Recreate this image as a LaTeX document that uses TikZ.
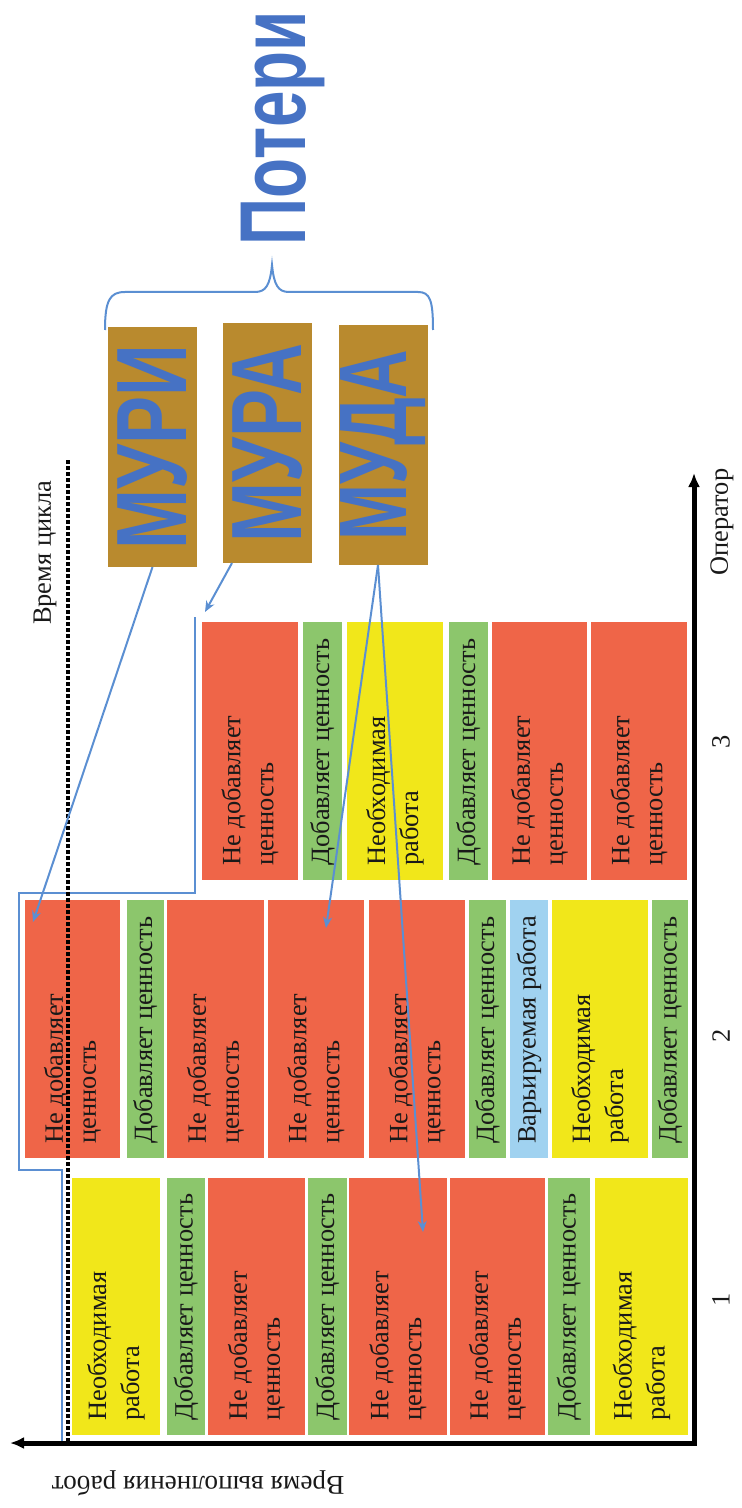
\documentclass[tikz,border=0pt]{standalone}
\usepackage{fontspec}
\usepackage{graphicx}
\setmainfont{Liberation Serif}
\newfontfamily\bigsans{Liberation Sans}
\usetikzlibrary{arrows.meta,calc}

\definecolor{nvaC}{HTML}{EF6548}
\definecolor{vaC}{HTML}{8CC66C}
\definecolor{reqC}{HTML}{F1E71A}
\definecolor{varC}{HTML}{A0D2F0}
\definecolor{goldC}{HTML}{B98A2E}
\definecolor{lineC}{HTML}{5B8FD2}
\definecolor{wordC}{HTML}{4672C4}

% one work element of an operator: name, x1, x2, y1, y2, style, label
\newcommand{\workbar}[7]{%
  \node[#6, minimum width={(#3-#2)*0.5pt}, minimum height={(#5-#4)*0.5pt}] (#1) at ({(#2+#3)/2},{(#4+#5)/2}) {};
  \node[lbl] (#1t) at ({(#2+#3)/2},{#5-14}) {#7};
}
% large condensed lettering
\newcommand{\bigword}[3]{\scalebox{#1}[1]{\fontsize{#2}{#2}\bigsans\bfseries #3}}

\begin{document}
\begin{tikzpicture}[x=0.5pt,y=-0.5pt,
  bar/.style={draw=none, inner sep=0pt, outer sep=0pt},
  nva/.style={bar, fill=nvaC},
  va/.style={bar, fill=vaC},
  req/.style={bar, fill=reqC},
  var/.style={bar, fill=varC},
  lbl/.style={rotate=90, anchor=west, align=left, inner sep=0pt,
    font=\fontsize{13.2}{16.5}\selectfont, text=black!90},
  plain/.style={inner sep=0pt, font=\fontsize{13.2}{16}\selectfont, text=black!90},
  waste/.style={draw=none, fill=goldC, inner sep=0pt, outer sep=0pt,
    minimum width=44.5pt, minimum height=120pt, text=wordC},
  link/.style={draw=lineC, line width=1pt, -{Stealth[length=5.5pt,width=4.5pt]}},
  axis/.style={draw=black, line width=2.5pt, {Latex[length=7pt,width=6pt]}-{Latex[length=7pt,width=6pt]}},
]
\useasboundingbox (0,0) rectangle (741,1508);

% operator 3
\workbar{o3a}{202}{298}{622}{880}{nva}{Не добавляет\\ценность}
\workbar{o3b}{303}{342}{622}{880}{va}{Добавляет ценность}
\workbar{o3c}{347}{443}{622}{880}{req}{Необходимая\\работа}
\workbar{o3d}{449}{488}{622}{880}{va}{Добавляет ценность}
\workbar{o3e}{492}{587}{622}{880}{nva}{Не добавляет\\ценность}
\workbar{o3f}{591}{687}{622}{880}{nva}{Не добавляет\\ценность}

% operator 2
\workbar{o2a}{25}{120}{900}{1158}{nva}{Не добавляет\\ценность}
\workbar{o2b}{127}{164}{900}{1158}{va}{Добавляет ценность}
\workbar{o2c}{167}{264}{900}{1158}{nva}{Не добавляет\\ценность}
\workbar{o2d}{268}{364}{900}{1158}{nva}{Не добавляет\\ценность}
\workbar{o2e}{369}{465}{900}{1158}{nva}{Не добавляет\\ценность}
\workbar{o2f}{469}{506}{900}{1158}{va}{Добавляет ценность}
\workbar{o2g}{510}{548}{900}{1158}{var}{Варьируемая работа}
\workbar{o2h}{552}{648}{900}{1158}{req}{Необходимая\\работа}
\workbar{o2i}{652}{688}{900}{1158}{va}{Добавляет ценность}

% operator 1
\workbar{o1a}{72}{160}{1178}{1435}{req}{Необходимая\\работа}
\workbar{o1b}{167}{205}{1178}{1435}{va}{Добавляет ценность}
\workbar{o1c}{208}{305}{1178}{1435}{nva}{Не добавляет\\ценность}
\workbar{o1d}{308}{347}{1178}{1435}{va}{Добавляет ценность}
\workbar{o1e}{349}{447}{1178}{1435}{nva}{Не добавляет\\ценность}
\workbar{o1f}{450}{545}{1178}{1435}{nva}{Не добавляет\\ценность}
\workbar{o1g}{548}{590}{1178}{1435}{va}{Добавляет ценность}
\workbar{o1h}{595}{688}{1178}{1435}{req}{Необходимая\\работа}

% envelope of the total work time
\coordinate (e0) at (195,617);
\coordinate (e1) at (195,893);
\coordinate (e2) at (19,893);
\coordinate (e3) at (19,1170);
\coordinate (e4) at (62,1170);
\coordinate (e5) at (62,1443);
\draw[lineC, line width=1pt] (e0) -- (e1) -- (e2) -- (e3) -- (e4) -- (e5);

% cycle time
\coordinate (ctTop) at (68,460);
\coordinate (ctBot) at (68,1443);
\draw[black, line width=1.6pt, dash pattern=on 2pt off 1pt] (ctTop) -- (ctBot);
\node[plain, rotate=90] (cycle) at (45,553) {Время цикла};

% axes
\coordinate (xEnd) at (10,1443);
\coordinate (origin) at (694,1443);
\coordinate (yEnd) at (694,473);
\draw[axis] (xEnd) -- (origin) -- (yEnd);
\node[plain, rotate=180, font=\fontsize{13.6}{16}\selectfont] (xlab) at (198,1483) {Время выполнения работ};
\node[plain, rotate=90] (ylab) at (722,522) {Оператор};
\node[plain, rotate=90] (n1) at (721,1300) {1};
\node[plain, rotate=90] (n2) at (721,1036) {2};
\node[plain, rotate=90] (n3) at (721,742) {3};

% kinds of losses
\node[waste] (muri) at (152.5,447) {\rotatebox{90}{\bigword{0.72}{50}{МУРИ}}};
\node[waste] (mura) at (267.5,443) {\rotatebox{90}{\bigword{0.72}{50}{МУРА}}};
\node[waste] (muda) at (383,445) {\rotatebox{90}{\bigword{0.70}{48}{МУДА}}};

% brace and title
\draw[lineC, line width=1pt] (105,330) .. controls (105,300) and (110,292) .. (125,292)
  -- (255,292) .. controls (266,292) and (270,285) .. (272,265)
  .. controls (274,285) and (278,292) .. (289,292)
  -- (418,292) .. controls (430,292) and (433,300) .. (433,330);
\node[rotate=90, anchor=base, inner sep=0pt, text=wordC] (poteri) at (305,128)
  {\bigword{0.70}{46.8}{Потери}};

% arrows from the losses to the work elements
\coordinate (muriT) at (33,922);
\coordinate (muraT) at (205,612);
\coordinate (mudaT1) at (326,928);
\coordinate (mudaT2) at (423,1232);
\draw[link] (muri.south) -- (muriT);
\draw[link] ($(mura.south west)+(9,0)$) -- (muraT);
\draw[link] ($(muda.south)+(-5,0)$) -- (mudaT1);
\draw[link] ($(muda.south)+(-5,0)$) -- (mudaT2);

\end{tikzpicture}
\end{document}
